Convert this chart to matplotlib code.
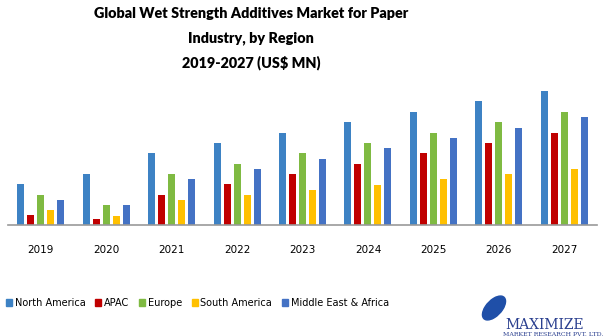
import numpy as np
import matplotlib.pyplot as plt
from matplotlib.patches import Ellipse, Patch

# Data (arbitrary units ~ US$ MN)
years = ["2019", "2020", "2021", "2022", "2023", "2024", "2025", "2026", "2027"]
regions = ["North America", "APAC", "Europe", "South America", "Middle East & Africa"]
north_america = [41, 51, 72, 82, 92, 103, 113, 124, 134]
apac = [10, 6, 30, 41, 51, 61, 72, 82, 92]
europe = [30, 20, 51, 61, 72, 82, 92, 103, 113]
south_america = [15, 9, 25, 30, 35, 40, 46, 51, 56]
mea = [25, 20, 46, 56, 66, 77, 87, 97, 108]

colors = ["#3d82c4", "#c00000", "#7fba42", "#ffc000", "#4472c4"]
series = [north_america, apac, europe, south_america, mea]

fig = plt.figure(figsize=(6.06, 3.36), dpi=100)
ax = fig.add_axes([8 / 606, 110.7 / 336, 589 / 606, 145 / 336])

x = np.arange(len(years))
pitch = 0.153
width = 0.107
for i, (vals, c) in enumerate(zip(series, colors)):
    ax.bar(x + (i - 2) * pitch, vals, width=width, color=c, label=regions[i])

ax.set_xlim(-0.5, len(years) - 0.5)
ax.set_ylim(0, 145)
ax.set_yticks([])
ax.set_xticks(x)
ax.set_xticklabels(years, fontsize=7.5)
ax.tick_params(axis="x", length=0, pad=14)
for s in ["top", "left", "right"]:
    ax.spines[s].set_visible(False)
ax.spines["bottom"].set_color("#999999")
ax.spines["bottom"].set_linewidth(1.2)

title_lines = ["Global Wet Strength Additives Market for Paper",
               "Industry, by Region",
               "2019-2027 (US$ MN)"]
for line, ypix in zip(title_lines, [13, 38, 63]):
    fig.text(251 / 606, 1 - ypix / 336, line, ha="center", va="center",
             fontsize=10.4, fontweight="heavy", family="Lato")

handles = [Patch(color=c, label=r) for c, r in zip(colors, regions)]
fig.legend(handles=handles, loc="center left", bbox_to_anchor=(2 / 606, 1 - 303 / 336),
           ncol=5, frameon=False, fontsize=7, handlelength=0.65, handleheight=0.65,
           handletextpad=0.25, columnspacing=1.0, borderaxespad=0)

# logo
fig.patches.append(Ellipse((494 / 606, 1 - 308 / 336), 0.030, 0.075, angle=-20,
                           transform=fig.transFigure, color="#1f4fa8", zorder=5))
fig.text(505 / 606, 1 - 325 / 336, "MAXIMIZE", fontsize=10, family="DejaVu Serif",
         color="#2a3f8f", va="center", ha="left")
fig.text(503 / 606, 1 - 335 / 336, "MARKET RESEARCH PVT. LTD.", fontsize=4.5,
         family="DejaVu Serif", color="#2a3f8f", va="center", ha="left")

fig.savefig("out.png", dpi=100)
